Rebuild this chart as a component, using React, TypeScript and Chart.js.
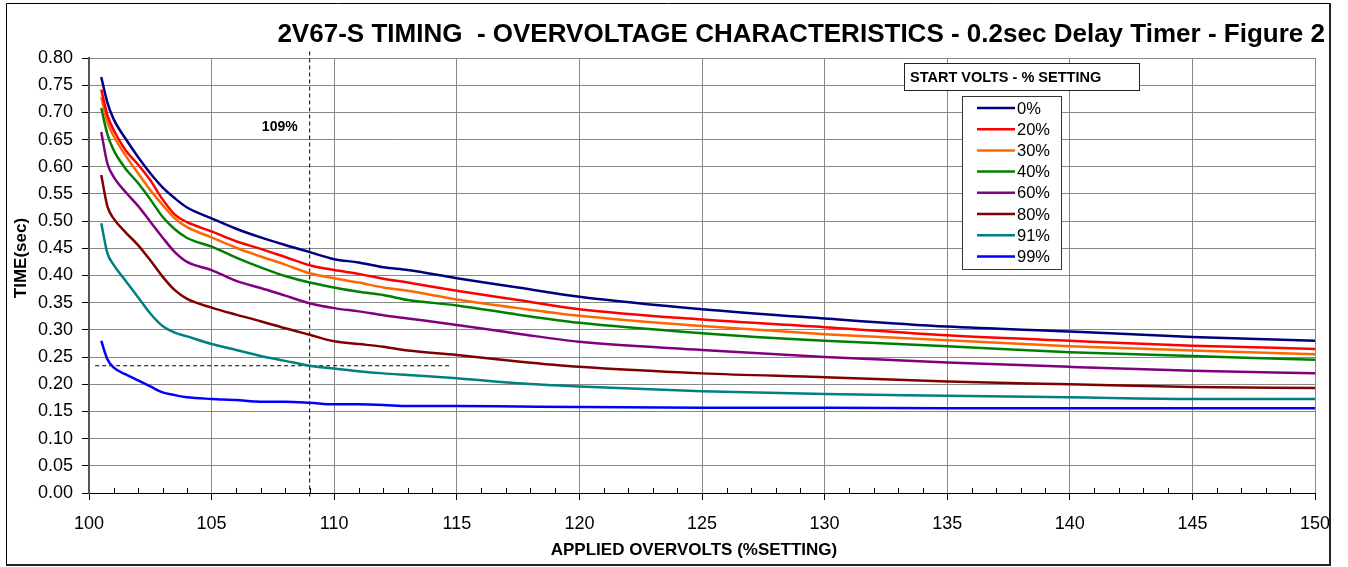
import React, { useEffect, useRef } from "react";
import { Chart, registerables } from "chart.js";

Chart.register(...registerables);

const TITLE = "2V67-S TIMING  - OVERVOLTAGE CHARACTERISTICS - 0.2sec Delay Timer - Figure 2";
const X_TITLE = "APPLIED OVERVOLTS (%SETTING)";
const Y_TITLE = "TIME(sec)";
const LEGEND_TITLE = "START VOLTS - % SETTING";
const MARKER_LABEL = "109%";

const xValues = [100.5, 100.75, 101, 101.5, 102, 102.5, 103, 103.5, 104, 105, 106, 107, 108, 109, 110, 111, 112, 113, 115, 117.5, 120, 125, 130, 135, 140, 145, 150];

const seriesLabels = ["0%", "20%", "30%", "40%", "60%", "80%", "91%", "99%"];
const seriesColors = ["#000080", "#FF0000", "#FF6600", "#008000", "#800080", "#800000", "#008080", "#0000FF"];

const s0 = [0.765, 0.718, 0.688, 0.651, 0.618, 0.588, 0.562, 0.542, 0.525, 0.505, 0.486, 0.470, 0.456, 0.443, 0.430, 0.424, 0.415, 0.410, 0.395, 0.378, 0.361, 0.338, 0.321, 0.306, 0.297, 0.287, 0.280];
const s20 = [0.742, 0.695, 0.668, 0.630, 0.604, 0.575, 0.540, 0.512, 0.498, 0.481, 0.463, 0.449, 0.434, 0.419, 0.410, 0.403, 0.394, 0.387, 0.372, 0.355, 0.338, 0.319, 0.305, 0.290, 0.280, 0.271, 0.265];
const s30 = [0.728, 0.682, 0.657, 0.620, 0.588, 0.557, 0.530, 0.505, 0.489, 0.470, 0.451, 0.435, 0.420, 0.404, 0.395, 0.387, 0.378, 0.372, 0.356, 0.340, 0.326, 0.307, 0.292, 0.281, 0.270, 0.262, 0.255];
const s40 = [0.708, 0.660, 0.631, 0.596, 0.570, 0.540, 0.508, 0.485, 0.469, 0.453, 0.433, 0.415, 0.399, 0.387, 0.378, 0.370, 0.364, 0.355, 0.345, 0.328, 0.313, 0.294, 0.280, 0.270, 0.259, 0.252, 0.245];
const s60 = [0.664, 0.606, 0.582, 0.553, 0.528, 0.499, 0.470, 0.443, 0.425, 0.410, 0.390, 0.377, 0.363, 0.349, 0.340, 0.334, 0.327, 0.321, 0.309, 0.293, 0.278, 0.263, 0.250, 0.240, 0.232, 0.225, 0.220];
const s80 = [0.585, 0.527, 0.505, 0.479, 0.456, 0.428, 0.398, 0.373, 0.357, 0.341, 0.328, 0.316, 0.303, 0.291, 0.279, 0.274, 0.269, 0.262, 0.254, 0.242, 0.232, 0.220, 0.213, 0.205, 0.200, 0.195, 0.193];
const s91 = [0.496, 0.441, 0.420, 0.390, 0.360, 0.330, 0.307, 0.295, 0.288, 0.274, 0.263, 0.252, 0.243, 0.234, 0.229, 0.224, 0.220, 0.217, 0.211, 0.202, 0.196, 0.187, 0.182, 0.179, 0.176, 0.173, 0.173];
const s99 = [0.280, 0.246, 0.231, 0.218, 0.207, 0.196, 0.185, 0.180, 0.176, 0.173, 0.171, 0.168, 0.168, 0.166, 0.163, 0.163, 0.162, 0.160, 0.160, 0.159, 0.158, 0.157, 0.157, 0.156, 0.156, 0.156, 0.156];

const seriesValues = [s0, s20, s30, s40, s60, s80, s91, s99];

// dashed marker lines
const vMarkerX = [109, 109];
const vMarkerY = [0.812, -0.01];
const hMarkerX = [100.25, 114.7];
const hMarkerY = [0.234, 0.234];

const FONT = "'Liberation Sans', Arial, Helvetica, sans-serif";

export default function App() {
  const ref = useRef<HTMLCanvasElement | null>(null);

  useEffect(() => {
    document.body.style.margin = "0";
    const canvas = ref.current;
    if (!canvas) return;

    const decor = {
      id: "decor",
      beforeDraw(chart: any) {
        const ctx = chart.ctx;
        ctx.save();
        ctx.fillStyle = "#ffffff";
        ctx.fillRect(0, 0, chart.width, chart.height);
        ctx.restore();
      },
      afterDraw(chart: any) {
        const ctx = chart.ctx;
        const xs = chart.scales.x;
        const area = chart.chartArea;
        ctx.save();

        // minor ticks (inside)
        ctx.strokeStyle = "#000";
        ctx.lineWidth = 1;
        for (let v = 101; v < 150; v++) {
          if (v % 5 === 0) continue;
          const px = Math.round(xs.getPixelForValue(v)) + 0.5;
          ctx.beginPath();
          ctx.moveTo(px, area.bottom);
          ctx.lineTo(px, area.bottom - 5);
          ctx.stroke();
        }

        // title
        let size = 24;
        ctx.font = `bold ${size}px ${FONT}`;
        const w = ctx.measureText(TITLE).width;
        size = size * (1048 / w);
        ctx.font = `bold ${size}px ${FONT}`;
        ctx.fillStyle = "#000";
        ctx.textAlign = "right";
        ctx.textBaseline = "middle";
        ctx.fillText(TITLE, 1325, 35);

        // axis titles
        ctx.font = `bold 17px ${FONT}`;
        ctx.textAlign = "center";
        ctx.fillText(X_TITLE, 694, 550);
        ctx.save();
        ctx.translate(21, 258);
        ctx.rotate(-Math.PI / 2);
        ctx.fillText(Y_TITLE, 0, 0);
        ctx.restore();

        // marker label
        ctx.font = `bold 14px ${FONT}`;
        ctx.textAlign = "right";
        ctx.fillText(MARKER_LABEL, xs.getPixelForValue(109) - 12, 127);

        // legend title box
        ctx.fillStyle = "#fff";
        ctx.fillRect(904, 63, 235, 27);
        ctx.strokeStyle = "#222";
        ctx.lineWidth = 1;
        ctx.strokeRect(904.5, 63.5, 235, 27);
        ctx.fillStyle = "#000";
        ctx.font = `bold 14.5px ${FONT}`;
        ctx.textAlign = "left";
        ctx.fillText(LEGEND_TITLE, 910, 77.5);

        // legend box
        ctx.fillStyle = "#fff";
        ctx.fillRect(962, 96, 99, 173);
        ctx.strokeStyle = "#333";
        ctx.strokeRect(962.5, 96.5, 99, 173);
        ctx.font = `16.5px ${FONT}`;
        seriesLabels.forEach((lab, i) => {
          const y = 108 + i * 21.2;
          ctx.strokeStyle = seriesColors[i];
          ctx.lineWidth = 2.5;
          ctx.beginPath();
          ctx.moveTo(977, y);
          ctx.lineTo(1015, y);
          ctx.stroke();
          ctx.fillStyle = "#000";
          ctx.fillText(lab, 1017, y + 1);
        });

        // frame
        ctx.strokeStyle = "#000";
        ctx.lineWidth = 1;
        ctx.beginPath();
        ctx.moveTo(6.5, 565);
        ctx.lineTo(6.5, 3.5);
        ctx.lineTo(1330, 3.5);
        ctx.stroke();
        ctx.strokeStyle = "#222";
        ctx.lineWidth = 2;
        ctx.beginPath();
        ctx.moveTo(1330, 3);
        ctx.lineTo(1330, 565);
        ctx.lineTo(6, 565);
        ctx.stroke();
        ctx.restore();
      },
    };

    const datasets: any[] = seriesValues.map((vals, i) => ({
      label: seriesLabels[i],
      data: xValues.map((x, j) => ({ x, y: vals[j] })),
      borderColor: seriesColors[i],
      backgroundColor: seriesColors[i],
      borderWidth: 2.5,
      pointRadius: 0,
      cubicInterpolationMode: "monotone",
      fill: false,
    }));

    datasets.push({
      label: "v-marker",
      data: vMarkerX.map((x, j) => ({ x, y: vMarkerY[j] })),
      borderColor: "#000",
      borderWidth: 1,
      borderDash: [4, 3],
      pointRadius: 0,
      clip: false,
      fill: false,
    });
    datasets.push({
      label: "h-marker",
      data: hMarkerX.map((x, j) => ({ x, y: hMarkerY[j] })),
      borderColor: "#000",
      borderWidth: 1,
      borderDash: [4, 3],
      pointRadius: 0,
      clip: false,
      fill: false,
    });

    const chart = new Chart(canvas, {
      type: "line",
      data: { datasets },
      options: {
        animation: false,
        responsive: false,
        devicePixelRatio: 1,
        layout: { padding: { left: 0, top: 58, right: 33, bottom: 0 } },
        plugins: {
          legend: { display: false },
          tooltip: { enabled: false },
          title: { display: false },
        },
        scales: {
          x: {
            type: "linear",
            min: 100,
            max: 150,
            afterFit(scale: any) {
              scale.height = 74;
            },
            ticks: {
              stepSize: 5,
              color: "#000",
              font: { family: FONT, size: 18 },
              padding: 13,
              maxRotation: 0,
            },
            grid: {
              color: "#888",
              tickColor: "#000",
              tickLength: 7,
              lineWidth: 1,
            },
            border: { color: "#000", width: 1 },
          },
          y: {
            type: "linear",
            min: 0,
            max: 0.8,
            afterFit(scale: any) {
              scale.width = 89;
            },
            ticks: {
              stepSize: 0.05,
              color: "#000",
              font: { family: FONT, size: 18 },
              padding: 9,
              callback: (v: any) => Number(v).toFixed(2),
            },
            grid: {
              color: "#888",
              tickColor: "#000",
              tickLength: 7,
              lineWidth: 1,
            },
            border: { color: "#555", width: 2 },
          },
        },
      },
      plugins: [decor],
    });

    return () => chart.destroy();
  }, []);

  return (
    <div style={{ width: 1348, height: 567 }}>
      <canvas ref={ref} width={1348} height={567} style={{ display: "block" }} />
    </div>
  );
}
